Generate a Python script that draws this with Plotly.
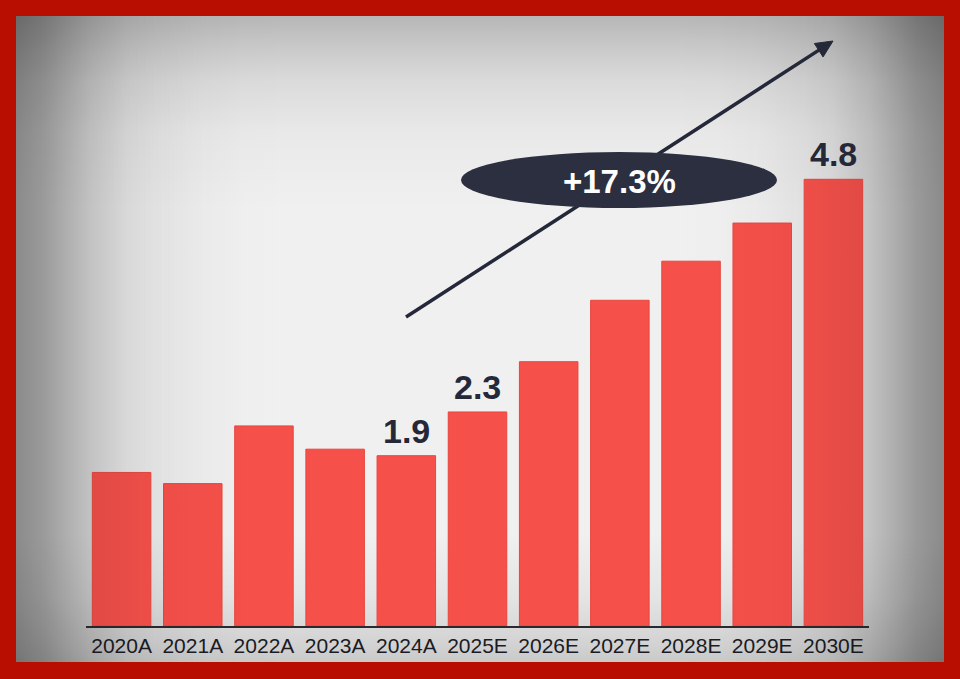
import base64
import plotly.graph_objects as go

# ---- data ----
categories = ["2020A", "2021A", "2022A", "2023A", "2024A", "2025E",
              "2026E", "2027E", "2028E", "2029E", "2030E"]
values = [1.65, 1.53, 2.15, 1.90, 1.83, 2.30, 2.84, 3.50, 3.92, 4.33, 4.80]
bar_labels = ["", "", "", "", "1.9", "2.3", "", "", "", "", "4.8"]
cagr_text = "+17.3%"

# ---- layout geometry (pixels) ----
W, H = 960, 679
L, R, T, B = 86, 91, 40, 53
PW, PH = W - L - R, H - T - B
BASE_Y = H - B


def px(x):
    return (x - L) / PW


def py(y):
    return (BASE_Y - y) / PH


FONT = "Liberation Sans, Arial, Helvetica, sans-serif"
DARK = "#242838"

fig = go.Figure()
fig.add_trace(go.Bar(
    x=categories, y=values,
    marker=dict(color="#f5504a", line=dict(color="#e8463e", width=1)),
    hoverinfo="skip",
))

# value labels above selected bars
annotations = []
for c, v, t in zip(categories, values, bar_labels):
    if t:
        annotations.append(dict(
            x=c, y=v, xref="x", yref="y", text=t, showarrow=False,
            yanchor="bottom", xanchor="center", yshift=4,
            font=dict(family=FONT, size=34, color=DARK, weight=700),
        ))

# CAGR label in ellipse
annotations.append(dict(
    x=px(619), y=py(181), xref="paper", yref="paper", text=cagr_text,
    showarrow=False, xanchor="center", yanchor="middle",
    font=dict(family=FONT, size=33, color="white", weight=700),
))

# arrow geometry
x0a, y0a = 406, 317
tip = (833, 41)
ux, uy = tip[0] - x0a, tip[1] - y0a
ln = (ux ** 2 + uy ** 2) ** 0.5
ux, uy = ux / ln, uy / ln
pxp, pyp = -uy, ux
hl, hw = 17, 8
bx, by = tip[0] - hl * ux, tip[1] - hl * uy
p1 = (bx + hw * pxp, by + hw * pyp)
p2 = (bx - hw * pxp, by - hw * pyp)
path = "M {} {} L {} {} L {} {} Z".format(px(tip[0]), py(tip[1]), px(p1[0]), py(p1[1]),
                                          px(p2[0]), py(p2[1]))

shapes = [
    # arrow shaft
    dict(type="line", xref="paper", yref="paper", x0=px(x0a), y0=py(y0a),
         x1=px(bx + 3 * ux), y1=py(by + 3 * uy), line=dict(color=DARK, width=3.5), layer="above"),
    # arrow head
    dict(type="path", xref="paper", yref="paper", path=path, fillcolor=DARK,
         line=dict(color=DARK, width=1), layer="above"),
    # ellipse
    dict(type="circle", xref="paper", yref="paper", x0=px(461), x1=px(777),
         y0=py(208), y1=py(152), fillcolor="#2b2f3f", line=dict(width=0), layer="above"),
]


def stops(pairs):
    return "".join("<stop offset='{}' stop-color='#000' stop-opacity='{}'/>".format(o, a)
                   for o, a in pairs)


h_stops = [(0, 0.36), (0.03, 0.29), (0.05, 0.22), (0.08, 0.12), (0.12, 0.05), (0.2, 0.01),
           (0.3, 0), (0.7, 0), (0.8, 0.01), (0.88, 0.05), (0.92, 0.12), (0.95, 0.22),
           (0.97, 0.29), (1, 0.36)]
v_stops = [(0, 0.24), (0.05, 0.16), (0.1, 0.09), (0.18, 0.03), (0.3, 0), (0.8, 0),
           (0.9, 0.05), (0.97, 0.12), (1, 0.16)]
bg_svg = (
    "<svg xmlns='http://www.w3.org/2000/svg' width='928' height='646' viewBox='0 0 928 646' "
    "preserveAspectRatio='none'><defs>"
    "<linearGradient id='h' x1='0' y1='0' x2='1' y2='0'>" + stops(h_stops) + "</linearGradient>"
    "<linearGradient id='v' x1='0' y1='0' x2='0' y2='1'>" + stops(v_stops) + "</linearGradient>"
    "</defs><rect width='928' height='646' fill='#f0f0f0'/>"
    "<rect width='928' height='646' fill='url(#h)'/>"
    "<rect width='928' height='646' fill='url(#v)'/></svg>"
)
ov_stops = [(0, 0.10), (0.08, 0.08), (0.15, 0.03), (0.25, 0), (0.75, 0), (0.85, 0.03),
            (0.92, 0.08), (1, 0.10)]
ov_svg = (
    "<svg xmlns='http://www.w3.org/2000/svg' width='928' height='646' viewBox='0 0 928 646' "
    "preserveAspectRatio='none'><defs>"
    "<linearGradient id='o' x1='0' y1='0' x2='1' y2='0'>" + stops(ov_stops) + "</linearGradient>"
    "</defs><rect width='928' height='646' fill='url(#o)'/></svg>"
)


def uri(s):
    return "data:image/svg+xml;base64," + base64.b64encode(s.encode()).decode()


img_common = dict(xref="paper", yref="paper", x=px(16), y=py(16),
                  sizex=(944 - 16) / PW, sizey=(662 - 16) / PH, xanchor="left",
                  yanchor="top", sizing="stretch", opacity=1)

fig.update_layout(
    width=W, height=H,
    margin=dict(l=L, r=R, t=T, b=B),
    paper_bgcolor="#b70e01",
    plot_bgcolor="rgba(0,0,0,0)",
    showlegend=False,
    bargap=0.178,
    annotations=annotations,
    shapes=shapes,
    images=[dict(source=uri(bg_svg), layer="below", **img_common),
            dict(source=uri(ov_svg), layer="above", **img_common)],
    xaxis=dict(type="category", showgrid=False, showline=True, linecolor="#2a2a2e",
               linewidth=1.5, ticks="", tickfont=dict(family=FONT, size=21, color="#1a1b24"),
               zeroline=False, fixedrange=True),
    yaxis=dict(range=[0, (BASE_Y - T) / 93.06], visible=False, showgrid=False,
               zeroline=False, fixedrange=True),
)

fig.write_html("out.html", config={"displayModeBar": False},
               post_script="document.body.style.margin='0';")
